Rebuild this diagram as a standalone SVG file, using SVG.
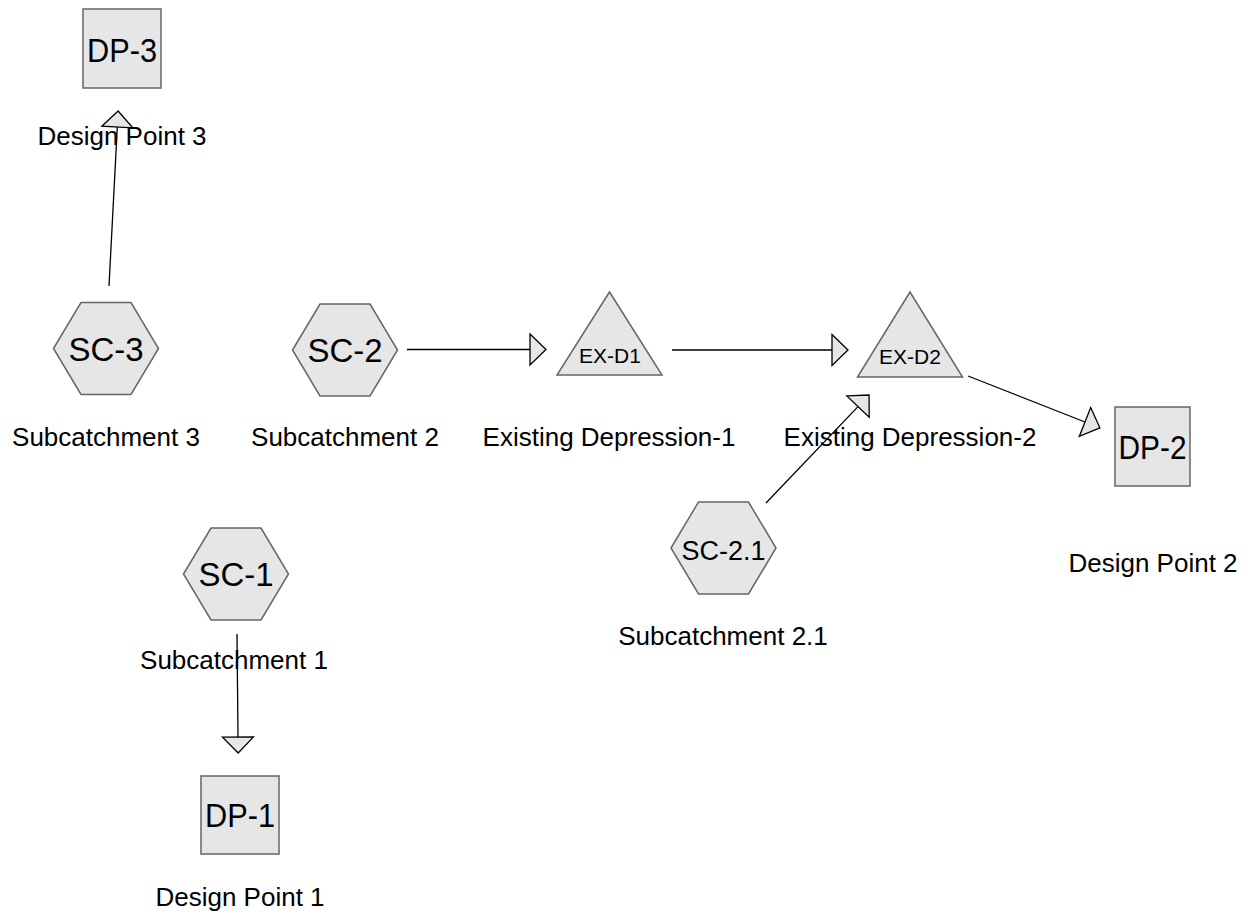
<svg xmlns="http://www.w3.org/2000/svg" width="1252" height="923" viewBox="0 0 1252 923">
<style>
.shape{fill:#e6e6e6;stroke:#666;stroke-width:1.5}
.big{font-family:"Liberation Sans",Arial,sans-serif;font-size:33px;fill:#000;text-anchor:middle}
.mid{font-family:"Liberation Sans",Arial,sans-serif;font-size:27px;fill:#000;text-anchor:middle}
.small{font-family:"Liberation Sans",Arial,sans-serif;font-size:21px;fill:#000;text-anchor:middle}
.lbl{font-family:"Liberation Sans",Arial,sans-serif;font-size:26px;fill:#000;text-anchor:middle}
.edge{fill:none;stroke:#000;stroke-width:1.3;marker-end:url(#arr)}
</style>
<defs>
<marker id="arr" markerUnits="userSpaceOnUse" markerWidth="20" markerHeight="34" viewBox="-1 -17 19 34" refX="0" refY="0" orient="auto" overflow="visible">
<path d="M0,-15.5 L16,0 L0,15.5 Z" fill="#e6e6e6" stroke="#000" stroke-width="1.3"/>
</marker>
</defs>
<rect width="1252" height="923" fill="#fff"/>
<g id="connectors">
<path class="edge" d="M109,286 L117.3,127"/>
<path class="edge" d="M407,349.5 L530,349.5"/>
<path class="edge" d="M672,350 L832,350"/>
<path class="edge" d="M968,376 L1085,422"/>
<path class="edge" d="M766,503 L858,406.6"/>
<path class="edge" d="M237,634 L238,737"/>
</g>
<g id="DP-3">
<rect class="shape" x="83" y="9" width="78" height="79"/>
<text class="big" x="122" y="62" textLength="70" lengthAdjust="spacingAndGlyphs">DP-3</text>
<text class="lbl" x="122" y="145">Design Point 3</text>
</g>
<g id="SC-3">
<polygon class="shape" points="53.5,348.5 81,302.5 131,302.5 158.5,348.5 131,394.5 81,394.5"/>
<text class="big" x="106" y="361">SC-3</text>
<text class="lbl" x="106" y="446">Subcatchment 3</text>
</g>
<g id="SC-2">
<polygon class="shape" points="292.5,350 320,304 370,304 397.5,350 370,396 320,396"/>
<text class="big" x="345" y="362">SC-2</text>
<text class="lbl" x="345" y="446">Subcatchment 2</text>
</g>
<g id="EX-D1">
<polygon class="shape" points="609.5,292 557,375 662,375"/>
<text class="small" x="610" y="363">EX-D1</text>
<text class="lbl" x="609" y="446">Existing Depression-1</text>
</g>
<g id="EX-D2">
<polygon class="shape" points="910,292 857.5,377 962.5,377"/>
<text class="small" x="910" y="364">EX-D2</text>
<text class="lbl" x="910" y="446">Existing Depression-2</text>
</g>
<g id="DP-2">
<rect class="shape" x="1115" y="407" width="75" height="79"/>
<text class="big" x="1152.5" y="459" textLength="68" lengthAdjust="spacingAndGlyphs">DP-2</text>
<text class="lbl" x="1153" y="572">Design Point 2</text>
</g>
<g id="SC-2.1">
<polygon class="shape" points="671,548 698.5,502 748.5,502 776,548 748.5,594 698.5,594"/>
<text class="mid" x="723.5" y="560">SC-2.1</text>
<text class="lbl" x="723" y="645">Subcatchment 2.1</text>
</g>
<g id="SC-1">
<polygon class="shape" points="183.5,574 211,528 261,528 288.5,574 261,620 211,620"/>
<text class="big" x="236" y="586">SC-1</text>
<text class="lbl" x="234" y="669">Subcatchment 1</text>
</g>
<g id="DP-1">
<rect class="shape" x="201" y="776" width="78" height="78"/>
<text class="big" x="240" y="827" textLength="70" lengthAdjust="spacingAndGlyphs">DP-1</text>
<text class="lbl" x="240" y="906">Design Point 1</text>
</g>
</svg>
